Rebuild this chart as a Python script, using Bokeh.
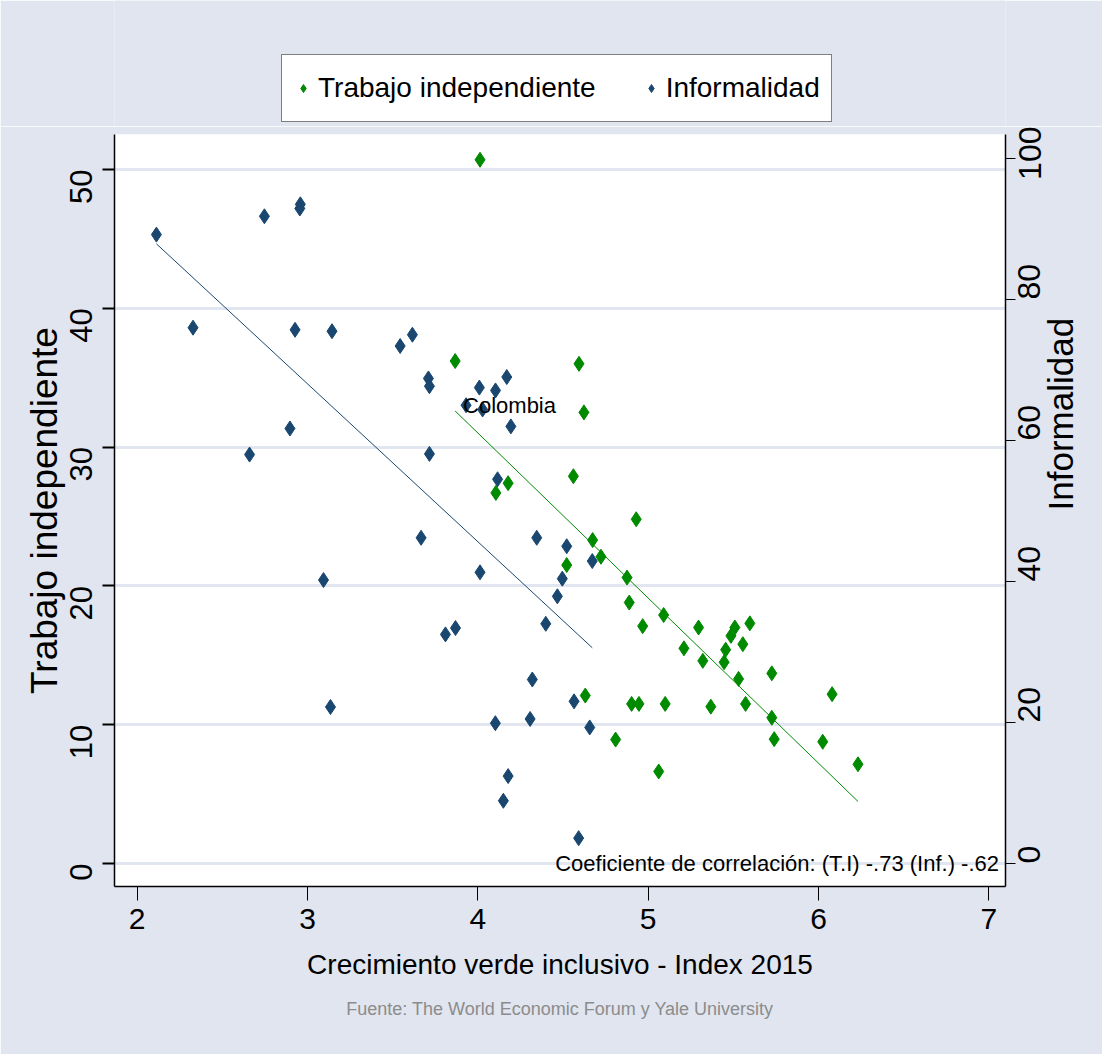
import math
from bokeh.plotting import figure
from bokeh.layouts import column
from bokeh.models import (LinearAxis, Range1d, Legend, LegendItem, FixedTicker,
                          Label, Title, ColumnDataSource)
from bokeh.core.properties import value
from bokeh.embed import file_html
from bokeh.resources import INLINE

# ---------------- data ----------------
ti_x = [4.013, 3.867, 4.594, 4.623, 4.561, 4.178, 4.106, 4.930, 4.674, 4.723,
        4.522, 4.876, 4.889, 4.968, 5.091, 5.210, 5.296, 5.321, 5.446, 5.455,
        5.486, 5.509, 5.556, 5.597, 5.531, 5.726, 5.572, 5.726, 5.740, 6.080,
        6.025, 6.232, 4.631, 4.903, 4.946, 5.100, 5.368, 4.809, 5.062]
ti_y = [50.7, 36.2, 36.0, 32.5, 27.9, 27.4, 26.7, 24.8, 23.3, 22.1,
        21.5, 20.6, 18.8, 17.1, 17.9, 15.5, 17.0, 14.6, 14.5, 15.4,
        16.4, 17.0, 15.8, 17.3, 13.3, 13.7, 11.5, 10.5, 8.96, 12.2,
        8.77, 7.15, 12.1, 11.5, 11.5, 11.5, 11.3, 8.93, 6.63]

inf_x = [2.113, 2.747, 2.958, 2.955, 2.328, 2.927, 3.144, 3.544, 3.616, 3.710,
         3.716, 4.009, 4.104, 4.170, 3.931, 4.028, 4.194, 2.897, 2.660, 3.716,
         4.116, 3.667, 4.013, 3.094, 3.810, 3.869, 3.135, 4.103, 4.346, 4.522,
         4.672, 4.496, 4.467, 4.399, 4.320, 4.565, 4.307, 4.657, 4.178, 4.150,
         4.592]
inf_y = [89.2, 91.8, 93.5, 92.9, 76.0, 75.7, 75.5, 73.4, 75.0, 68.8,
         67.7, 67.5, 67.1, 69.0, 65.0, 64.4, 62.0, 61.7, 58.0, 58.1,
         54.5, 46.2, 41.3, 40.2, 32.5, 33.4, 22.2, 19.9, 46.2, 45.0,
         42.9, 40.4, 37.9, 34.0, 26.1, 23.0, 20.5, 19.3, 12.4, 8.9,
         3.6]

# linear fits (end points)
fit_ti_x = [3.867, 6.232]
fit_ti_y = [32.6, 4.47]
fit_inf_x = [2.113, 4.672]
fit_inf_y = [87.9, 30.6]

label_x = [3.931]
label_y = [65.0]
label_text = ["Colombia"]

x_ticks = [2, 3, 4, 5, 6, 7]
left_ticks = [0, 10, 20, 30, 40, 50]
right_ticks = [0, 20, 40, 60, 80, 100]

series_names = ["Trabajo independiente", "Informalidad"]
corr_text = "Coeficiente de correlación: (T.I) -.73 (Inf.) -.62"
source_text = "Fuente: The World Economic Forum y Yale University"

# ---------------- style ----------------
FONT = "Liberation Sans"
BG = "#E0E5EF"
GREEN = "#008A00"
NAVY = "#1A476F"
W = 1102
TOP_H = 126
MAIN_H = 928

# ---------------- legend strip (top) ----------------
# same series drawn here only so that the legend has glyphs; the ranges keep
# the points themselves out of view
top = figure(width=W, height=TOP_H, output_backend="svg", toolbar_location=None,
             x_axis_location=None, y_axis_location=None,
             x_range=Range1d(0, 1), y_range=Range1d(0, 1),
             min_border=0, min_border_left=0, min_border_right=0,
             min_border_top=0, min_border_bottom=0)
top.background_fill_color = BG
top.border_fill_color = BG
top.outline_line_color = None
top.grid.visible = False
lg_g = top.scatter(x=ti_x, y=ti_y, marker="diamond", size=15, fill_color=GREEN,
                   line_color=GREEN)
lg_n = top.scatter(x=inf_x, y=inf_y, marker="diamond", size=15, fill_color=NAVY,
                   line_color=NAVY)
legend = Legend(items=[LegendItem(label=series_names[0], renderers=[lg_g]),
                       LegendItem(label=series_names[1], renderers=[lg_n])],
                orientation="horizontal", location=(167, 4),
                label_text_font=FONT, label_text_font_size="28px",
                label_text_color="black", glyph_width=20, glyph_height=44,
                label_standoff=5, spacing=45, padding=11,
                border_line_color="black", border_line_width=1.5,
                background_fill_color="white", background_fill_alpha=1.0,
                margin=0)
top.add_layout(legend, "center")

# ---------------- main plot ----------------
p = figure(width=W, height=MAIN_H, output_backend="svg", toolbar_location=None,
           x_range=Range1d(1.867, 7.098), y_range=Range1d(-1.657, 52.52),
           min_border_left=114, min_border_right=96, min_border_top=8,
           min_border_bottom=168)
p.extra_y_ranges = {"right": Range1d(-3.26, 103.4)}
p.background_fill_color = "white"
p.border_fill_color = BG
p.outline_line_color = None

# x axis
xa = p.xaxis[0]
xa.ticker = FixedTicker(ticks=x_ticks)
xa.axis_label = "Crecimiento verde inclusivo - Index 2015"
xa.axis_label_text_font = FONT
xa.axis_label_text_font_size = "28px"
xa.axis_label_text_font_style = "normal"
xa.axis_label_text_color = "black"
xa.axis_label_standoff = 17
xa.major_label_text_font = FONT
xa.major_label_text_font_size = "30px"
xa.major_label_text_color = "black"
xa.major_label_standoff = 8
xa.major_tick_out = 14
xa.major_tick_in = 0
xa.minor_tick_out = 0
xa.minor_tick_in = 0
xa.axis_line_color = "black"
xa.axis_line_width = 1.5
xa.major_tick_line_color = "black"

# left y axis
ya = p.yaxis[0]
ya.ticker = FixedTicker(ticks=left_ticks)
ya.axis_label = series_names[0]
ya.axis_label_text_font = FONT
ya.axis_label_text_font_size = "37px"
ya.axis_label_text_font_style = "normal"
ya.axis_label_text_color = "black"
ya.axis_label_standoff = -8
ya.major_label_text_font = FONT
ya.major_label_text_font_size = "31px"
ya.major_label_text_color = "black"
ya.major_label_orientation = math.pi / 2
ya.major_label_standoff = 21
ya.major_tick_out = 12
ya.major_tick_in = 0
ya.minor_tick_out = 0
ya.minor_tick_in = 0
ya.axis_line_color = "black"
ya.axis_line_width = 1.5
ya.major_tick_line_color = "black"
ya.major_tick_line_width = 2

# right y axis
ra = LinearAxis(y_range_name="right", ticker=FixedTicker(ticks=right_ticks))
ra.axis_label = series_names[1]
ra.axis_label_text_font = FONT
ra.axis_label_text_font_size = "35px"
ra.axis_label_text_font_style = "normal"
ra.axis_label_text_color = "black"
ra.axis_label_standoff = 6
if "axis_label_orientation" in LinearAxis.properties():
    ra.axis_label_orientation = math.pi / 2
ra.major_label_text_font = FONT
ra.major_label_text_font_size = "32px"
ra.major_label_text_color = "black"
ra.major_label_orientation = math.pi / 2
ra.major_label_standoff = 14
ra.major_tick_out = 10
ra.major_tick_in = 0
ra.minor_tick_out = 0
ra.minor_tick_in = 0
ra.axis_line_color = "black"
ra.axis_line_width = 1.5
ra.major_tick_line_color = "black"
p.add_layout(ra, "right")

p.xgrid.visible = False
p.ygrid.ticker = FixedTicker(ticks=left_ticks)
p.ygrid.grid_line_color = "#E1E6F1"
p.ygrid.grid_line_width = 3

# fit lines
p.line(fit_inf_x, fit_inf_y, y_range_name="right", line_color=NAVY, line_width=1)
p.line(fit_ti_x, fit_ti_y, line_color=GREEN, line_width=1)

# points
p.scatter(ti_x, ti_y, marker="diamond", size=15, fill_color=GREEN,
          line_color=GREEN, line_width=1)
p.scatter(inf_x, inf_y, marker="diamond", size=15, fill_color=NAVY,
          line_color=NAVY, line_width=1, y_range_name="right")

# Colombia label
lab_src = ColumnDataSource(dict(x=label_x, y=label_y, t=label_text))
p.text(x="x", y="y", text="t", source=lab_src, y_range_name="right",
       text_font=value(FONT), text_font_size="22px", text_color="black",
       text_align="left", text_baseline="middle", x_offset=-3)

# correlation note
p.add_layout(Label(x=7.06, y=0, text=corr_text, text_align="right",
                   text_baseline="middle", text_font=FONT,
                   text_font_size="22px", text_color="black"))

# source note
p.add_layout(Title(text=source_text, align="center", text_font=FONT,
                   text_font_size="18px", text_font_style="normal",
                   text_color="#8C8C8C", standoff=29), "below")

layout = column(top, p, spacing=0)
open("out.html", "w").write(file_html(layout, INLINE))
